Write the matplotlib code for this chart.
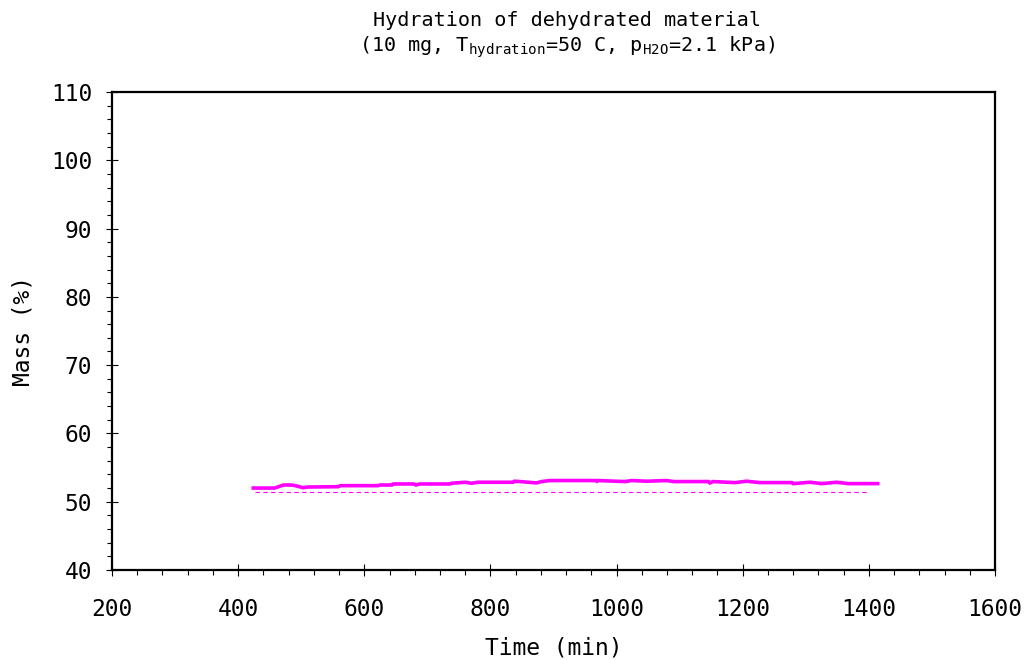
import matplotlib
matplotlib.use('Agg')

import matplotlib.pyplot as plt
from matplotlib.ticker import MultipleLocator

plt.rcParams['font.family'] = 'DejaVu Sans Mono'
plt.rcParams['mathtext.fontset'] = 'custom'
plt.rcParams['mathtext.rm'] = 'DejaVu Sans Mono'
plt.rcParams['mathtext.it'] = 'DejaVu Sans Mono'
plt.rcParams['mathtext.bf'] = 'DejaVu Sans Mono'

# Mass signal during hydration (min, %)
time_min = [424, 458, 472, 485, 493, 503, 511, 559, 562, 622, 625, 644, 646,
            678, 682, 688, 736, 738, 760, 770, 780, 836, 838, 847, 873, 881,
            894, 968, 969, 971, 1013, 1024, 1048, 1079, 1091, 1146, 1148, 1153,
            1188, 1206, 1227, 1278, 1280, 1307, 1325, 1349, 1367, 1414]
mass_pct = [52.0, 52.0, 52.45, 52.45, 52.3, 52.05, 52.15, 52.2, 52.35, 52.35,
            52.45, 52.45, 52.6, 52.6, 52.45, 52.6, 52.6, 52.7, 52.85, 52.7,
            52.85, 52.85, 53.0, 52.95, 52.75, 52.95, 53.1, 53.1, 53.0, 53.1,
            52.95, 53.1, 53.0, 53.1, 52.95, 52.95, 52.75, 52.95, 52.8, 53.0,
            52.8, 52.8, 52.65, 52.85, 52.65, 52.85, 52.65, 52.65]

# Reference level (dashed)
ref_time = [426, 1399]
ref_mass = [51.35, 51.35]

magenta = '#ff00ff'

fig = plt.figure(figsize=(10.26, 6.6), dpi=100)
ax = fig.add_axes([112 / 1026, 1 - 570 / 660, (995 - 112) / 1026, (570 - 92) / 660])

ax.plot(time_min, mass_pct, color=magenta, linewidth=2.6, solid_joinstyle='miter')
ax.plot(ref_time, ref_mass, color=magenta, linewidth=0.8, linestyle=(0, (4, 3)))

ax.set_xlim(200, 1600)
ax.set_ylim(40, 110)
ax.xaxis.set_major_locator(MultipleLocator(200))
ax.xaxis.set_minor_locator(MultipleLocator(40))
ax.yaxis.set_major_locator(MultipleLocator(10))
ax.yaxis.set_minor_locator(MultipleLocator(2))

for s in ax.spines.values():
    s.set_linewidth(1.6)
    s.set_color('black')

ax.tick_params(which='major', direction='inout', length=8.5, width=0.8,
               labelsize=16.5)
ax.tick_params(axis='x', which='major', pad=16)
ax.tick_params(axis='y', which='major', pad=10)
ax.tick_params(which='minor', direction='out', length=3.5, width=0.8)
ax.tick_params(top=False, right=False, which='both')

ax.set_xlabel('Time (min)', fontsize=16.5, labelpad=11)
ax.set_ylabel('Mass (%)', fontsize=16.5, labelpad=12)

fig.text(567 / 1026, 1 - 20 / 660, 'Hydration of dehydrated material',
         ha='center', va='center', fontsize=14.5)
fig.text(567 / 1026, 1 - 47 / 660,
         r'(10 mg, T$_{\mathrm{hydration}}$=50 C, p$_{\mathrm{H2O}}$=2.1 kPa)',
         ha='center', va='center', fontsize=14.5)

fig.savefig('out.png', dpi=100)
